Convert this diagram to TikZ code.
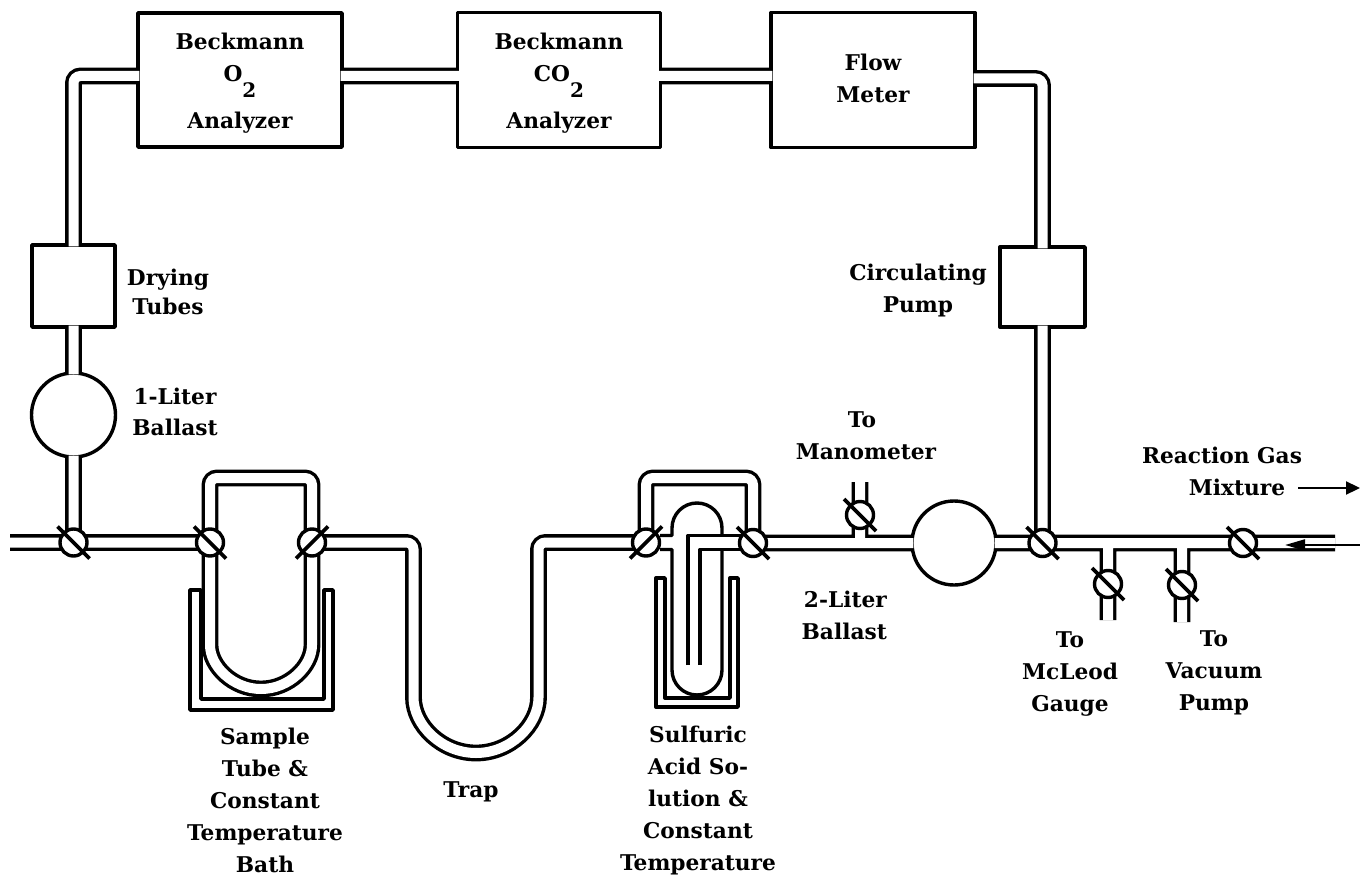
\documentclass[tikz,border=0pt]{standalone}
\usepackage{fontspec}
\setmainfont{DejaVu Serif}
\usetikzlibrary{arrows.meta}
\pgfdeclarelayer{boxes}
\pgfdeclarelayer{pipes}
\pgfsetlayers{boxes,pipes,main}
\tikzset{
  wall/.style={draw=black,line width=3.4pt,line join=round},
  device/.style={wall,fill=white,inner sep=0pt,anchor=center},
  globe/.style={device,circle},
  pipe/.style={draw=black,line width=3.4pt,double=white,double distance=10pt,rounded corners=7pt},
  valve/.style={circle,draw=black,fill=white,line width=3.4pt,minimum size=27pt,inner sep=0pt},
  slash/.style={draw=black,line width=3.8pt},
  lbl/.style={font=\fontsize{21.7}{32}\selectfont\bfseries,inner sep=0pt,align=center,text=black},
  bath/.style={draw=black,line width=3.4pt,fill=white,line join=round},
  glass/.style={draw=black,line width=3.4pt,line join=round},
  flowarrow/.style={draw=black,line width=2.2pt,-{Triangle[length=14pt,width=13pt]}},
  inarrow/.style={draw=black,line width=2.2pt,-{Triangle[length=20pt,width=11pt]}}
}
\newcommand{\subtwo}{\raisebox{-16pt}[0pt][0pt]{\fontsize{20}{20}\selectfont 2}}
\begin{document}
\begin{tikzpicture}[x=1pt,y=-1pt]
\useasboundingbox (0,0) rectangle (1360,877);

% valves
\foreach \n/\x/\y in {v1/73.5/542.5,v2/210/542.5,v3/312/542.5,v4/646/542.5,v5/753/543,vm/860/515,v6/1042.5/543,vg/1108/584,vp/1182/585,v7/1243/543}{
  \node[valve] (\n) at (\x,\y) {};
}
\foreach \n/\s in {v1/1,v2/1,v3/-1,v4/-1,v5/1,vm/1,v6/1,vg/1,vp/1,v7/1}{
  \draw[slash] ([shift={(-16*\s,-16)}]\n.center) -- ([shift={(16*\s,16)}]\n.center);
}

% open pipe ends
\coordinate (leftend) at (10,542.5);
\coordinate (rightend) at (1335,543);
\coordinate (manend) at (860,482);
\coordinate (gaugeend) at (1108,620);
\coordinate (vacend) at (1182,622);

\begin{pgfonlayer}{boxes}
\fill[white] (0,0) rectangle (1360,877);
\node[device,minimum width=204pt,minimum height=134pt] (o2) at (240,80) {};
\node[device,minimum width=203pt,minimum height=135pt] (co2) at (559,80) {};
\node[device,minimum width=204pt,minimum height=135pt] (flow) at (873,80) {};
\node[device,minimum width=83pt,minimum height=82pt] (dry) at (73.5,286) {};
\node[device,minimum width=85pt,minimum height=80pt] (pump) at (1042.5,287) {};
\node[globe,minimum size=84pt] (b1) at (73.5,415) {};
\node[globe,minimum size=84pt] (b2) at (954,543) {};
\end{pgfonlayer}

\begin{pgfonlayer}{pipes}
\draw[pipe]
  (leftend) -- (v1.center) -- (v2.center)
  (v1.center) -- ([yshift=3pt]b1.south)
  ([yshift=-3pt]b1.north) -- ([yshift=3pt]dry.south)
  ([yshift=-3pt]dry.north) -- (73.5,76) -- ([xshift=3pt]o2.west |- 0,76)
  ([xshift=-3pt]o2.east |- 0,76) -- ([xshift=3pt]co2.west |- 0,76)
  ([xshift=-3pt]co2.east |- 0,76) -- ([xshift=3pt]flow.west |- 0,76)
  ([xshift=-3pt]flow.east |- 0,78.5) -- (1042.5,78.5) -- ([yshift=-3pt]pump.north)
  ([yshift=3pt]pump.south) -- (v6.center)
  (v2.center) -- (210,478) -- (312,478) -- (v3.center)
  (v3.center) -- (413.5,542.5) -- (413.5,690.5) arc[start angle=180,end angle=0,radius=62.5] -- (538.5,542.5) -- (v4.center)
  (v4.center) -- (646,478) -- (753,478) -- (v5.center)
  (v5.center) -- ([xshift=3pt]b2.west)
  ([xshift=-3pt]b2.east) -- (v6.center) -- (v7.center) -- (rightend)
  (860,543) -- (vm.center) -- (manend)
  (1108,543) -- (vg.center) -- (gaugeend)
  (1182,543) -- (vp.center) -- (vacend);
\draw[pipe] (v2.center) -- (210,638) arc[start angle=180,end angle=0,radius=51] -- (v3.center);
\end{pgfonlayer}

% baths
\begin{pgfonlayer}{boxes}
\draw[bath] (190,590) -- (201,590) -- (201,699) -- (324,699) -- (324,590) -- (333,590) -- (333,710) -- (190,710) -- cycle;
\draw[bath] (656,578) -- (665,578) -- (665,698) -- (730,698) -- (730,578) -- (738,578) -- (738,707) -- (656,707) -- cycle;
\end{pgfonlayer}

% acid tube
\begin{pgfonlayer}{pipes}
\fill[white] (672,530) rectangle (722,670);
\fill[white] (655,537) rectangle (745,548);
\fill[white] (672,528) arc[start angle=180,end angle=360,radius=25] -- cycle;
\fill[white] (672,670) arc[start angle=180,end angle=0,radius=25] -- cycle;
\draw[glass] (660,535.5) -- (672,535.5) -- (672,528) arc[start angle=180,end angle=360,radius=25] -- (722,535.5);
\draw[glass] (660,549.5) -- (672,549.5) -- (672,670) arc[start angle=180,end angle=0,radius=25] -- (722,549.5);
\draw[glass] (688,665) -- (688,535.5) -- (742,535.5);
\draw[glass] (700,665) -- (700,549.5) -- (742,549.5);
\end{pgfonlayer}

% labels
\node[lbl] (t1) at (240,83) {\rule{0pt}{15pt}Beckmann\\O\subtwo\\[15pt]Analyzer};
\node[lbl] (t2) at (559,83) {\rule{0pt}{15pt}Beckmann\\CO\subtwo\\[15pt]Analyzer};
\node[lbl] (t3) at (873,78) {Flow\\Meter};
\node[lbl] (t4) at (168,291.5) {Drying\\[-3pt]Tubes};
\node[lbl] (t5) at (175,411.5) {1-Liter\\[-1pt]Ballast};
\node[lbl] (t6) at (918,291) {Circulating\\Pump};
\node[lbl] (t7) at (866,436) {To\hspace*{8pt}\\Manometer};
\node[lbl] (t8) at (1222,471) {Reaction Gas\\\hspace*{30pt}Mixture};
\node[lbl,align=right,anchor=east] (t9) at (887,615) {2-Liter\\Ballast};
\node[lbl] (t10) at (1070,674) {To\\McLeod\\Gauge};
\node[lbl] (t11) at (1214,673) {To\\Vacuum\\Pump};
\node[lbl] (t12) at (471,792) {Trap};
\node[lbl] (t13) at (265,800) {Sample\\Tube \&\\Constant\\Temperature\\Bath};
\node[lbl] (t14) at (698,801) {Sulfuric\\Acid So-\\lution \&\\Constant\\Temperature};

% arrows
\coordinate (ga) at (1298,488);
\coordinate (gb) at (1360,488);
\draw[flowarrow] (ga) -- (gb);
\coordinate (ia) at (1360,545);
\coordinate (ib) at (1285,545);
\draw[inarrow] (ia) -- (ib);
\end{tikzpicture}
\end{document}
